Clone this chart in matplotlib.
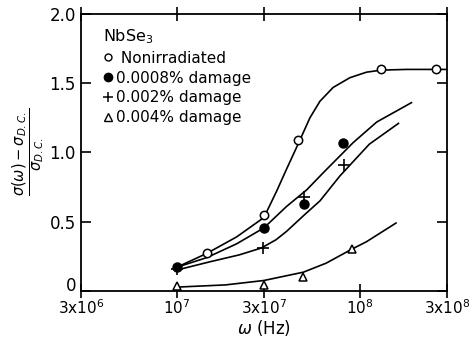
import numpy as np
import matplotlib
matplotlib.use('Agg')
import matplotlib.pyplot as plt
import matplotlib.transforms as mtransforms
from matplotlib.lines import Line2D

# measured points
w_open = [1.46e7, 3.0e7, 4.61e7, 1.31e8, 2.6e8]
s_open = [0.27, 0.55, 1.09, 1.60, 1.60]
w_fill = [1.0e7, 3.0e7, 4.98e7, 8.1e7]
s_fill = [0.17, 0.455, 0.63, 1.065]
w_plus = [1.0e7, 2.95e7, 4.98e7, 8.2e7]
s_plus = [0.155, 0.31, 0.68, 0.91]
w_tri = [1.0e7, 3.0e7, 4.93e7, 9.03e7]
s_tri = [0.035, 0.045, 0.10, 0.30]

# hand-drawn guide curves
cw_open = [1.0e7, 1.46e7, 2.13e7, 3.0e7, 3.52e7, 3.99e7, 4.61e7, 5.35e7, 6.07e7,
           7.17e7, 8.84e7, 1.09e8, 1.31e8, 1.8e8, 3.0e8]
cs_open = [0.17, 0.27, 0.39, 0.53, 0.72, 0.88, 1.06, 1.25, 1.37,
           1.47, 1.54, 1.58, 1.595, 1.60, 1.60]
cw_fill = [1.0e7, 1.46e7, 2.13e7, 3.0e7, 3.99e7, 5.14e7, 6.4e7, 9.2e7, 1.24e8, 1.92e8]
cs_fill = [0.17, 0.24, 0.34, 0.455, 0.61, 0.73, 0.86, 1.07, 1.22, 1.36]
cw_plus = [1.0e7, 1.52e7, 2.2e7, 2.91e7, 3.5e7, 3.99e7, 5.0e7, 6.07e7, 7.8e7, 1.13e8, 1.63e8]
cs_plus = [0.15, 0.21, 0.26, 0.31, 0.37, 0.43, 0.55, 0.65, 0.83, 1.06, 1.21]
cw_tri = [1.0e7, 1.85e7, 3.0e7, 4.93e7, 6.56e7, 9.03e7, 1.09e8, 1.58e8]
cs_tri = [0.027, 0.043, 0.075, 0.135, 0.20, 0.30, 0.355, 0.49]

xticks = [3e6, 1e7, 3e7, 1e8, 3e8]
xticklabels = [r'3x10$^6$', r'10$^7$', r'3x10$^7$', r'10$^8$', r'3x10$^8$']
yticks = [0, 0.5, 1.0, 1.5, 2.0]
yticklabels = ['0', '0.5', '1.0', '1.5', '2.0']

plt.rcParams['font.family'] = ['DejaVu Sans']
plt.rcParams['mathtext.fontset'] = 'dejavusans'

fig = plt.figure(figsize=(4.7, 3.43), dpi=100)
ax = fig.add_axes([0.172, 0.152, 0.779, 0.807])

lw = 1.2
for cw, cs in [(cw_open, cs_open), (cw_fill, cs_fill), (cw_plus, cs_plus), (cw_tri, cs_tri)]:
    ax.plot(cw, cs, color='black', lw=lw)

ax.plot(w_open, s_open, 'o', ms=6, mfc='white', mec='black', mew=1.1, ls='none')
ax.plot(w_fill, s_fill, 'o', ms=6.5, mfc='black', mec='black', ls='none')
ax.plot(w_plus, s_plus, '+', ms=8, mec='black', mew=1.2, ls='none')
ax.plot(w_tri, s_tri, '^', ms=6, mfc='white', mec='black', mew=1.1, ls='none')

ax.set_xscale('log')
ax.set_xlim(3e6, 3e8)
ax.set_ylim(0, 2.0)
ax.set_xticks(xticks)
ax.set_xticklabels(xticklabels, fontsize=11)
ax.minorticks_off()
ax.set_yticks(yticks)
ax.set_yticklabels(yticklabels, fontsize=12)
ax.tick_params(axis='both', direction='in', length=7, width=1.2, top=True, right=True)
ax.tick_params(axis='x', direction='inout', length=10, pad=0)
for sp in ax.spines.values():
    sp.set_linewidth(1.3)

# the "0" label sits a little above the axis line in the original
zero_lbl = ax.get_yticklabels()[0]
zero_lbl.set_transform(zero_lbl.get_transform() +
                       mtransforms.ScaledTranslation(0, 5 / 72, fig.dpi_scale_trans))

ax.set_xlabel(r'$\omega$ (Hz)', fontsize=12, labelpad=1)
ax.set_ylabel(r'$\frac{\sigma(\omega)-\sigma_{D.C.}}{\sigma_{D.C.}}$', fontsize=15, labelpad=2)

handles = [
    Line2D([], [], marker='o', ls='none', mfc='white', mec='black', ms=5),
    Line2D([], [], marker='o', ls='none', mfc='black', mec='black', ms=6),
    Line2D([], [], marker='+', ls='none', mec='black', ms=7, mew=1.1),
    Line2D([], [], marker='^', ls='none', mfc='white', mec='black', ms=6),
]
labels = [' Nonirradiated', '0.0008% damage', '0.002% damage', '0.004% damage']
leg = ax.legend(handles, labels, title=r'NbSe$_3$', loc='upper left', frameon=False,
                fontsize=11, title_fontsize=11.5, handlelength=0.6, handletextpad=0.2,
                labelspacing=0.32, borderaxespad=0.0, bbox_to_anchor=(0.045, 0.975),
                alignment='left')

fig.savefig('out.png', dpi=100)
